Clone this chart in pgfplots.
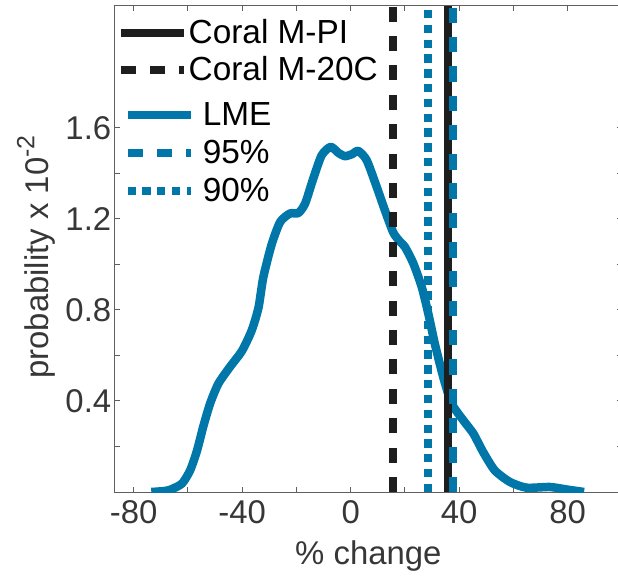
\documentclass[border=0pt]{standalone}
\usepackage{pgfplots}
\pgfplotsset{compat=1.18}
\usepackage{fontspec}
\setmainfont{Liberation Sans}
\definecolor{lme}{RGB}{0,119,168}
\definecolor{coral}{RGB}{30,30,30}
\definecolor{axgray}{RGB}{95,95,95}
\definecolor{txtgray}{RGB}{55,55,55}
\pgfplotsset{
  common/.style={
    width=507.3bp, height=486bp, scale only axis,
    xmin=-87, xmax=100, ymin=0, ymax=2.136,
  },
  legstyle/.style={
    legend image code/.code={\draw[##1] (0bp,-1bp) -- (63bp,-1bp);},
    legend cell align=left,
    legend style={draw=none, fill=none, inner sep=0pt, outer sep=0pt,
      font=\fontsize{33.5}{33.5}\selectfont, text=black,
      nodes={inner sep=0pt, text height=23bp, text depth=0bp}},
  },
}
\begin{document}
\begin{tikzpicture}
\begin{axis}[common, name=main,
  /pgf/number format/assume math mode=true,
  axis line style={axgray, line width=1bp},
  tick style={axgray, line width=1bp},
  major tick length=5bp, tick align=inside,
  xtick={-80,-60,-40,-20,0,20,40,60,80},
  xticklabels={-80,,-40,,0,,40,,80},
  ytick={0.2,0.4,0.6,0.8,1.0,1.2,1.4,1.6},
  yticklabels={,0.4,,0.8,,1.2,,1.6},
  ticklabel style={font=\fontsize{33}{33}\selectfont, text=txtgray},
  xticklabel style={yshift=-5bp},
  xlabel={\% change},
  ylabel={probability x 10\raisebox{0.42em}{\fontsize{25}{25}\selectfont -2}},
  label style={font=\fontsize{33}{33}\selectfont, text=txtgray},
  xlabel style={at={(axis description cs:0.5,0)}, anchor=base, yshift=-72bp},
  ylabel style={at={(axis description cs:-0.131,0.4835)}, anchor=base, rotate=0},
  legstyle,
  legend style={at={(axis description cs:0.0039,0.9707)}, anchor=north west,
    row sep=14bp, column sep=1bp},
]
\addplot[lme, line width=8.5bp, smooth, tension=0.4, line join=round, forget plot] coordinates {
(-73.5,0.0) (-69,0.004) (-66.5,0.01) (-62.2,0.037) (-59.2,0.095) (-56.7,0.18)
(-54.3,0.29) (-51.8,0.39) (-48.8,0.476) (-44.5,0.55) (-40.1,0.62) (-36.5,0.71)
(-34.0,0.81) (-32.2,0.945) (-29.1,1.09) (-26.0,1.187) (-22.4,1.224) (-19.3,1.226)
(-16.8,1.268) (-13.8,1.378) (-10.7,1.48) (-7.4,1.517) (-4.5,1.49) (-2.1,1.476)
(0.5,1.485) (2.8,1.499) (5.9,1.458) (9.6,1.34) (12.6,1.238) (15.7,1.14)
(18.2,1.1) (20.0,1.077) (23.1,1.004) (26.2,0.90) (28.6,0.784) (31.0,0.652)
(34.1,0.505) (37.2,0.389) (41.5,0.315) (45.2,0.257) (48.8,0.176) (53.1,0.095)
(58.7,0.044) (64.8,0.019) (73.4,0.022) (79.6,0.011) (86,0.0)
};
\addplot[coral, line width=8bp] coordinates {(36,0) (36,2.136)};
\addlegendentry{Coral M-PI}
\addplot[coral, line width=8bp, dash pattern=on 15bp off 14.4bp] coordinates {(15.7,0) (15.7,2.136)};
\addlegendentry{Coral M-20C}
\addplot[lme, line width=8bp, dash pattern=on 15.5bp off 13.8bp, forget plot] coordinates {(37.6,0) (37.6,2.136)};
\addplot[lme, line width=8bp, dash pattern=on 8.3bp off 6.5bp, forget plot] coordinates {(28.4,0) (28.4,2.136)};
\end{axis}
\begin{axis}[common, hide axis, legstyle,
  legend style={at={(axis description cs:0.0169,0.8013)}, anchor=north west,
    row sep=15bp, column sep=8bp},
]
\addlegendimage{lme, line width=8.5bp}
\addlegendentry{LME}
\addlegendimage{lme, line width=8bp, dash pattern=on 15.5bp off 13.8bp}
\addlegendentry{95\%}
\addlegendimage{lme, line width=8bp, dash pattern=on 8.3bp off 6.5bp}
\addlegendentry{90\%}
\end{axis}
\pgfresetboundingbox
\path[use as bounding box] ([xshift=-114.7bp,yshift=-85bp]main.south west) rectangle ([xshift=-4bp,yshift=6bp]main.north east);
\end{tikzpicture}
\end{document}
